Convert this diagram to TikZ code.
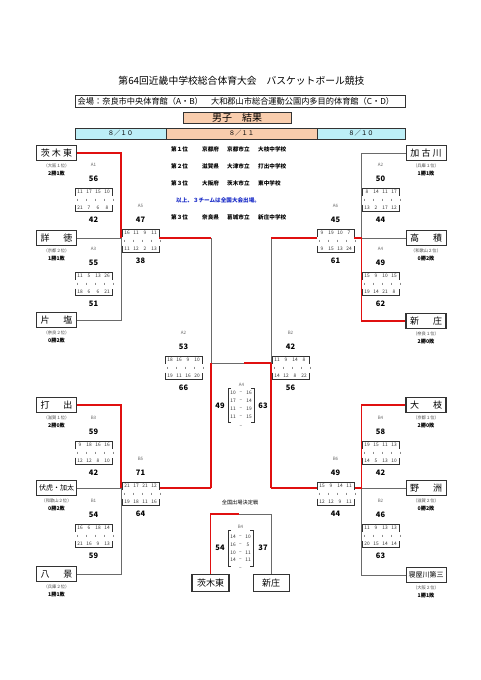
\documentclass[tikz,border=0pt]{standalone}
\usepackage{fontspec}
\setmainfont{Noto Sans CJK JP}
\usetikzlibrary{calc}
\definecolor{wred}{HTML}{E01010}
\definecolor{lgray}{HTML}{6A6A6A}
\definecolor{cyanbg}{HTML}{BDEFF7}
\definecolor{peach}{HTML}{F9CDAD}
\definecolor{tblue}{HTML}{1A2CC8}
\tikzset{
 wline/.style={wred, line width=1.5pt},
 lline/.style={lgray, line width=0.8pt},
 team/.style={draw=black!80, line width=0.7pt, fill=white, minimum width=40pt, minimum height=15pt, inner sep=0pt, font=\fontsize{9}{9}\selectfont},
 teamw/.style={team, line width=1.6pt},
 pref/.style={font=\fontsize{4.3}{4.3}\selectfont, text=black!70, inner sep=0pt},
 rec/.style={font=\bfseries\fontsize{5.2}{5.2}\selectfont, inner sep=0pt},
 glab/.style={font=\fontsize{4.5}{4.5}\selectfont, text=black!60, inner sep=0pt},
 gsc/.style={font=\bfseries\fontsize{7.5}{7.5}\selectfont, inner sep=0pt},
 snum/.style={font=\fontsize{4.8}{4.8}\selectfont, inner sep=0pt, text=black!80},
 sbrk/.style={black!80, line width=0.6pt},
 stick/.style={black!45, line width=0.35pt},
 ctext/.style={anchor=west, font=\bfseries\fontsize{5.6}{5.6}\selectfont, inner sep=0pt},
 datebox/.style={draw=black!80, line width=0.6pt, minimum height=11pt, inner sep=0pt, font=\fontsize{6.3}{6.3}\selectfont},
}
\newcommand{\gamebox}[8]{%
 \coordinate (#1) at (#2,#3);
 \node[glab] (#1-l) at ($(#1)+(0,-35)$) {#4};
 \node[gsc] (#1-a) at ($(#1)+(0,-21)$) {#5};
 \node[gsc] (#1-b) at ($(#1)+(0,20)$) {#8};
 \draw[sbrk] ($(#1)+(-18.5,-4.5)$) -- ($(#1)+(-18.5,-11.5)$) -- ($(#1)+(18.5,-11.5)$) -- ($(#1)+(18.5,-4.5)$);
 \draw[sbrk] ($(#1)+(-18.5,4.5)$) -- ($(#1)+(-18.5,11.5)$) -- ($(#1)+(18.5,11.5)$) -- ($(#1)+(18.5,4.5)$);
 \foreach \v [count=\i] in {#6} \node[snum] (#1-t\i) at ($(#1)+(-22.5+9*\i,-8)$) {\v};
 \foreach \v [count=\i] in {#7} \node[snum] (#1-u\i) at ($(#1)+(-22.5+9*\i,8)$) {\v};
 \foreach \k in {0,...,4} \draw[stick] ($(#1)+(-16+9*\k,-1.3)$) -- ++(0,2.6);
}
\newcommand{\teamnode}[7]{%
 \node[#4] (#1) at (#2,#3) {#5};
 \node[pref] (#1-p) at (#2,#3+12.5) {#6};
 \node[rec] (#1-r) at (#2,#3+21) {#7};
}
\begin{document}
\begin{tikzpicture}[x=1pt,y=-1pt]
\useasboundingbox (0,0) rectangle (481,680);
\fill[white] (0,0) rectangle (481,680);

% header
\node[font=\fontsize{9.8}{9.8}\selectfont, inner sep=0pt] (title) at (241.5,81) {第64回近畿中学校総合体育大会　バスケットボール競技};
\node[draw=black!80, line width=0.8pt, minimum width=330pt, minimum height=12pt, inner sep=0pt] (venue) at (240,101) {};
\node[anchor=west, inner sep=0pt, font=\fontsize{8.2}{8.2}\selectfont] (venuet) at (77.5,101) {会場：奈良市中央体育館（A・B）　大和郡山市総合運動公園内多目的体育館（C・D）};
\node[draw=black!80, line width=0.8pt, fill=peach, minimum width=108pt, minimum height=11pt, inner sep=0pt, font=\fontsize{10}{10}\selectfont] (boys) at (237,117.5) {男子　結果};
\node[datebox, fill=cyanbg, minimum width=91pt] (d1) at (120.5,133.5) {８／１０};
\node[datebox, fill=peach, minimum width=151pt] (d2) at (241.5,133.5) {８／１１};
\node[datebox, fill=cyanbg, minimum width=88pt] (d3) at (361,133.5) {８／１０};

% results text
\node[ctext] (r1a) at (171,149) {第１位};
\node[ctext] (r1b) at (202,149) {京都府};
\node[ctext] (r1c) at (227,149) {京都市立};
\node[ctext] (r1d) at (258,149) {大枝中学校};
\node[ctext] (r2a) at (171,166) {第２位};
\node[ctext] (r2b) at (202,166) {滋賀県};
\node[ctext] (r2c) at (227,166) {大津市立};
\node[ctext] (r2d) at (258,166) {打出中学校};
\node[ctext] (r3a) at (171,183) {第３位};
\node[ctext] (r3b) at (202,183) {大阪府};
\node[ctext] (r3c) at (227,183) {茨木市立};
\node[ctext] (r3d) at (258,183) {東中学校};
\node[ctext, text=tblue] (note) at (176,200) {以上、３チームは全国大会出場。};
\node[ctext] (r4a) at (171,217) {第３位};
\node[ctext] (r4b) at (202,217) {奈良県};
\node[ctext] (r4c) at (227,217) {葛城市立};
\node[ctext] (r4d) at (258,217) {新庄中学校};

% junction coordinates
\coordinate (jA) at (121,238);
\coordinate (jB) at (361.5,238);
\coordinate (jC) at (121,488);
\coordinate (jD) at (361.5,488);
\coordinate (cL1) at (211,238);
\coordinate (cLm) at (211,363);
\coordinate (cL2) at (211,488);
\coordinate (cR1) at (271,238);
\coordinate (cRm) at (271,363);
\coordinate (cR2) at (271,488);
\coordinate (cMid) at (244,363);
\coordinate (fMid) at (239,514);

% gray lines (drawn first)
\draw[lline] (56.5,238) -- (jA);
\draw[lline] (56.5,320) -| (jA);
\draw[lline] (426,153) -| (jB);
\draw[lline] (426,238) -- (jB);
\draw[lline] (56.5,488) -- (jC);
\draw[lline] (56.5,574) -| (jC);
\draw[lline] (426,488) -- (jD);
\draw[lline] (426,575) -| (jD);
\draw[lline] (cL1) -- (cLm);
\draw[lline] (cR1) -- (cRm);
\draw[lline] (cLm) -- (cMid);
\draw[lline] (fMid) -| (271,583);

% red lines
\draw[wline] (56.5,153) -| (jA);
\draw[wline] (159,238) -- (cL1);
\draw[wline] (426,321) -| (jB);
\draw[wline] (jB) -- (354,238);
\draw[wline] (317,238) -- (cR1);
\draw[wline] (56.5,405) -| (jC);
\draw[wline] (159,488) -- (cL2);
\draw[wline] (426,405) -| (jD);
\draw[wline] (jD) -- (354,488);
\draw[wline] (317,488) -- (cR2);
\draw[wline] (cLm) -- (cL2);
\draw[wline] (cRm) -- (cR2);
\draw[wline] (cMid) -- (cRm);
\draw[wline] (210.5,583) |- (fMid);

% teams left
\teamnode{ibaraki}{56.5}{153}{teamw}{茨\hspace{2.2pt}木\hspace{2.2pt}東}{（大阪１位）}{2勝1敗}
\teamnode{shotoku}{56.5}{238}{team}{\makebox[32pt]{詳\hfill 徳}}{（京都２位）}{1勝1敗}
\teamnode{katashio}{56.5}{320}{team}{\makebox[32pt]{片\hfill 塩}}{（奈良２位）}{0勝2敗}
\teamnode{uchide}{56.5}{405}{teamw}{\makebox[32pt]{打\hfill 出}}{（滋賀１位）}{2勝0敗}
\teamnode{fukko}{56.5}{488}{team,font=\fontsize{7}{7}\selectfont}{伏虎・加太}{（和歌山２位）}{0勝2敗}
\teamnode{hakkei}{56.5}{574}{team}{\makebox[32pt]{八\hfill 景}}{（兵庫２位）}{1勝1敗}
% teams right
\teamnode{kakogawa}{426}{153}{team}{加\hspace{2.2pt}古\hspace{2.2pt}川}{（兵庫１位）}{1勝1敗}
\teamnode{takazumi}{426}{238}{team}{\makebox[32pt]{高\hfill 積}}{（和歌山２位）}{0勝2敗}
\teamnode{shinjo}{426}{321}{teamw}{\makebox[32pt]{新\hfill 庄}}{（奈良１位）}{2勝0敗}
\teamnode{oeda}{426}{405}{teamw}{\makebox[32pt]{大\hfill 枝}}{（京都１位）}{2勝0敗}
\teamnode{yasu}{426}{488}{team}{\makebox[32pt]{野\hfill 洲}}{（滋賀２位）}{0勝2敗}
\teamnode{neyagawa}{426}{575}{team,font=\fontsize{7}{7}\selectfont}{寝屋川第三}{（大阪２位）}{1勝1敗}

% games
\gamebox{gA1}{93.5}{200}{A1}{56}{11,17,15,10}{21,7,6,8}{42}
\gamebox{gA3}{93.5}{284}{A3}{55}{11,5,13,26}{18,6,6,21}{51}
\gamebox{gA5}{140.5}{241}{A5}{47}{16,11,9,11}{11,12,2,13}{38}
\gamebox{gA2r}{380.5}{200}{A2}{50}{8,14,11,17}{13,2,17,12}{44}
\gamebox{gA4r}{380.5}{284}{A4}{49}{15,9,10,15}{19,14,21,8}{62}
\gamebox{gA6}{335.5}{241}{A6}{45}{9,19,10,7}{9,15,13,24}{61}
\gamebox{gA2m}{183.5}{368}{A2}{53}{18,16,9,10}{19,11,16,20}{66}
\gamebox{gB2m}{290.5}{368}{B2}{42}{11,9,14,8}{14,12,8,22}{56}
\gamebox{gB3}{93.5}{453}{B3}{59}{9,18,16,16}{12,12,8,10}{42}
\gamebox{gB1}{93.5}{536}{B1}{54}{16,6,18,14}{21,16,9,13}{59}
\gamebox{gB5}{140.5}{494}{B5}{71}{21,17,21,12}{19,18,11,16}{64}
\gamebox{gB4r}{380.5}{453}{B4}{58}{19,15,11,13}{14,5,13,10}{42}
\gamebox{gB2r}{380.5}{536}{B2}{46}{11,9,13,13}{20,15,14,14}{63}
\gamebox{gB6}{335.5}{494}{B6}{49}{15,9,14,11}{12,12,9,11}{44}

% final A4
\node[glab] (fA4-l) at (241.5,385) {A4};
\draw[sbrk] (231,388) -- (228,388) -- (228,422) -- (231,422);
\draw[sbrk] (251,388) -- (254,388) -- (254,422) -- (251,422);
\foreach \a/\b [count=\i] in {10/16,17/14,11/19,11/15} {
 \node[snum] (fA4-a\i) at (233,385+8*\i) {\a};
 \node[snum] (fA4-d\i) at (241,385+8*\i) {–};
 \node[snum] (fA4-b\i) at (249,385+8*\i) {\b};
}
\node[snum] (fA4-x) at (241,427) {–};
\node[gsc] (fA4-s1) at (220,406) {49};
\node[gsc] (fA4-s2) at (263,406) {63};

% national qualification decider
\node[font=\fontsize{5.2}{5.2}\selectfont, inner sep=0pt] (natl) at (240,503) {全国出場決定戦};
\node[teamw, minimum width=37pt, minimum height=17pt] (ibaraki2) at (210.5,583) {茨木東};
\node[team, minimum width=36pt, minimum height=17pt] (shinjo2) at (271,583) {新庄};
\node[glab] (fB4-l) at (240.5,527) {B4};
\draw[sbrk] (231,530) -- (228,530) -- (228,566) -- (231,566);
\draw[sbrk] (250,530) -- (253,530) -- (253,566) -- (250,566);
\foreach \a/\b [count=\i] in {14/10,16/5,10/11,14/11} {
 \node[snum] (fB4-a\i) at (233,529.3+7.7*\i) {\a};
 \node[snum] (fB4-d\i) at (240.5,529.3+7.7*\i) {–};
 \node[snum] (fB4-b\i) at (248,529.3+7.7*\i) {\b};
}
\node[snum] (fB4-x) at (240.5,569) {–};
\node[gsc] (fB4-s1) at (220,548) {54};
\node[gsc] (fB4-s2) at (263,548) {37};
\end{tikzpicture}
\end{document}
